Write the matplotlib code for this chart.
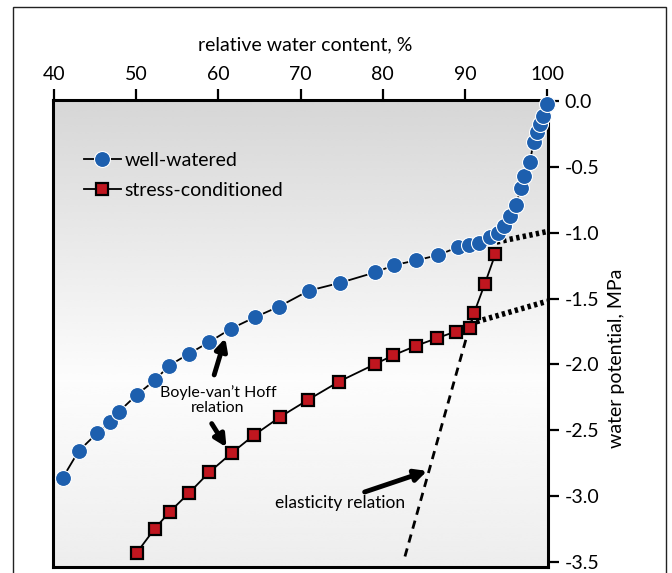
import matplotlib
matplotlib.use('Agg')
import matplotlib.pyplot as plt
import numpy as np
from matplotlib.patches import Rectangle

plt.rcParams['font.family'] = ['Lato', 'DejaVu Sans']
plt.rcParams['axes.unicode_minus'] = False

# ---- data ----
ww_rwc = [41.1, 43.0, 45.3, 46.8, 47.9, 50.1, 52.3, 54.0, 56.4, 58.9, 61.5, 64.5,
          67.4, 71.0, 74.8, 79.1, 81.4, 84.0, 86.7, 89.1, 90.5, 91.7, 93.0, 94.05,
          94.75, 95.5, 96.2, 96.8, 97.2, 97.9, 98.35, 98.8, 99.1, 99.5, 100.0]
ww_psi = [-2.86, -2.66, -2.52, -2.44, -2.36, -2.23, -2.12, -2.01, -1.92, -1.83,
          -1.73, -1.64, -1.56, -1.44, -1.38, -1.30, -1.245, -1.21, -1.17, -1.11,
          -1.09, -1.08, -1.03, -1.00, -0.945, -0.875, -0.79, -0.66, -0.57, -0.46,
          -0.31, -0.23, -0.17, -0.11, -0.02]

sc_rwc = [50.1, 52.25, 54.1, 56.4, 58.9, 61.7, 64.3, 67.5, 70.9, 74.7, 79.0,
          81.3, 84.0, 86.6, 88.9, 90.6, 91.1, 92.4, 93.7]
sc_psi = [-3.43, -3.25, -3.12, -2.98, -2.82, -2.67, -2.54, -2.40, -2.27, -2.13,
          -2.00, -1.93, -1.86, -1.80, -1.75, -1.72, -1.61, -1.39, -1.16]

elastic_x = [82.7, 90.7]
elastic_y = [-3.46, -1.68]
turgor_ww_x = [93.85, 100.0]
turgor_ww_y = [-1.07, -0.99]
turgor_sc_x = [90.6, 100.0]
turgor_sc_y = [-1.69, -1.52]

x_ticks = [40, 50, 60, 70, 80, 90, 100]
y_ticks = [0.0, -0.5, -1.0, -1.5, -2.0, -2.5, -3.0, -3.5]

blue = '#1d5fae'
red = '#c0161f'

fig = plt.figure(figsize=(6.72, 5.73), dpi=100)
fig.patches.append(Rectangle((0.019, -0.02), 0.972, 1.007, transform=fig.transFigure,
                             fill=False, edgecolor='#222222', linewidth=1.0))

ax = fig.add_axes([0.0789, 0.0105, 0.7366, 0.815])
ax.set_xlim(39.9, 100.1)
ax.set_ylim(-3.54, 0.01)

# background gradient
pos = np.linspace(0, 1, 256)
grad = np.interp(pos, [0, 0.6, 1], [0.84, 0.99, 0.93])
ax.imshow(grad.reshape(-1, 1), extent=[39.9, 100.1, -3.54, 0.01], aspect='auto',
          cmap='gray', vmin=0, vmax=1, zorder=0, interpolation='bicubic')

# reference lines
ax.plot(elastic_x, elastic_y, color='k', lw=2.0, ls=(0, (3.0, 2.2)), zorder=2)
ax.plot(turgor_ww_x, turgor_ww_y, color='k', lw=4.0, ls=(0, (0.6, 0.6)), zorder=2)
ax.plot(turgor_sc_x, turgor_sc_y, color='k', lw=4.0, ls=(0, (0.6, 0.6)), zorder=2)

# series
ax.plot(ww_rwc, ww_psi, color='k', lw=1.3, marker='o', ms=11.5, mfc=blue, mec='white',
        mew=0.8, zorder=4, label='well-watered', clip_on=False)
ax.plot(sc_rwc, sc_psi, color='k', lw=1.3, marker='s', ms=9, mfc=red, mec='k',
        mew=1.6, zorder=3, label='stress-conditioned', clip_on=False)

# annotations
arrow = dict(arrowstyle='-|>,head_length=0.7,head_width=0.35', lw=3.5, color='k',
             shrinkA=0, shrinkB=0)
ax.annotate('', xy=(60.85, -1.80), xytext=(59.5, -2.08), arrowprops=arrow, zorder=5)
ax.annotate('', xy=(61.0, -2.63), xytext=(59.2, -2.45), arrowprops=arrow, zorder=5)
ax.annotate('', xy=(85.4, -2.81), xytext=(77.8, -2.97), arrowprops=arrow, zorder=5)
ax.text(59.95, -2.27, "Boyle-van\u2019t Hoff\nrelation", ha='center', va='center',
        fontsize=11.5, linespacing=1.15, zorder=6)
ax.text(74.8, -3.05, 'elasticity relation', ha='center', va='center', fontsize=12.5, zorder=6)

# axes styling
for s in ax.spines.values():
    s.set_linewidth(2.2)
ax.xaxis.tick_top()
ax.yaxis.tick_right()
ax.set_xticks(x_ticks)
ax.set_xticklabels([str(v) for v in x_ticks])
ax.set_yticks(y_ticks)
ax.set_yticklabels([f'{v:.1f}' for v in y_ticks])
ax.tick_params(axis='both', direction='out', length=8, width=1.6, labelsize=14, pad=4)
ax.xaxis.set_label_position('top')
ax.yaxis.set_label_position('right')
ax.set_xlabel('relative water content, %', fontsize=14)
ax.xaxis.set_label_coords(0.509, 1.118)
ax.xaxis.label.set_va('center')
ax.set_ylabel('water potential, MPa', fontsize=14, rotation=90)
ax.yaxis.set_label_coords(1.139, 0.4475)
ax.yaxis.label.set_va('center')
ax.yaxis.label.set_ha('center')

leg = ax.legend(loc='upper left', bbox_to_anchor=(0.062, 0.888), frameon=False,
                fontsize=14, handlelength=1.9, handletextpad=0.2, labelspacing=0.65,
                borderaxespad=0, borderpad=0)

fig.savefig('out.png', dpi=100)
